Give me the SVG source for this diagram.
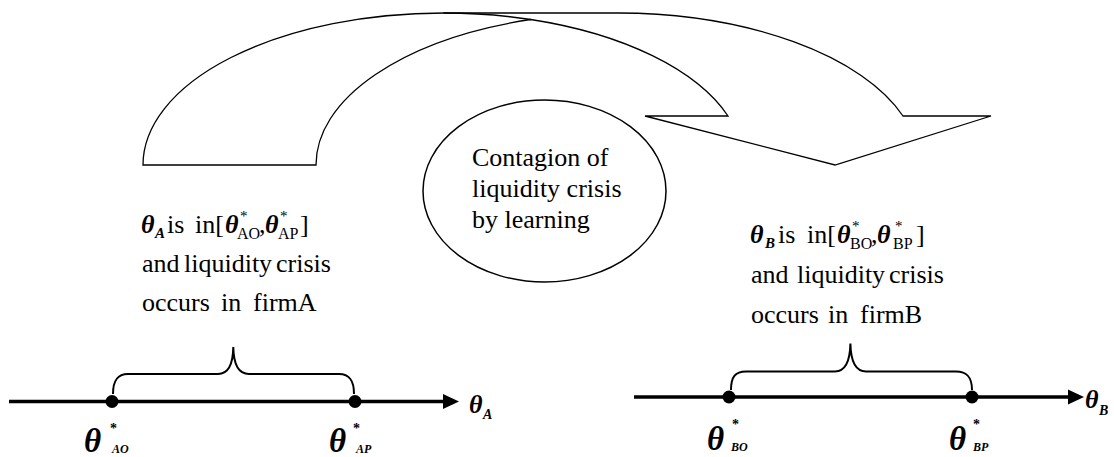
<svg xmlns="http://www.w3.org/2000/svg" width="1114" height="457" viewBox="0 0 1114 457" font-family="Liberation Serif, DejaVu Serif, serif">
<style>
  text, tspan { font-family: "Liberation Serif", "DejaVu Serif", serif; fill: #000; }
  .t { font-size: 26px; }
  .bi { font-weight: bold; font-style: italic; }
  .it { font-style: italic; font-weight: bold; }
  .sub { font-size: 16px; }
  .sup { font-size: 15px; }
  .shape { fill: #fff; stroke: #000; stroke-width: 1.3; stroke-linejoin: miter; }
  .axis { stroke: #000; stroke-width: 3.5; fill: none; }
  .brace { stroke: #000; stroke-width: 2; fill: none; }
  .big { font-size: 33px; font-weight: bold; font-style: italic; }
  .tiny { font-size: 12px; font-weight: bold; font-style: italic; }
  .ast { font-size: 14px; font-weight: bold; }
</style>
<rect width="1114" height="457" fill="#fff"/>

<g id="connectors">
  <g id="curved-arrow">
    <path class="shape" d="M143,165 A300.5,152 0 0 1 443.5,13 L618.5,13 A302.5,152 0 0 1 903,116 L991,116 L835,165 L645,116 L728,116 A300.5,152 0 0 0 530.7,19.5 A302.5,152 0 0 0 316,165 Z"/>
    <path class="shape" style="fill:none" d="M443.5,13 A300.5,152 0 0 1 530.7,19.5"/>
  </g>
  <g id="axis-A">
    <line class="axis" x1="9" y1="401.5" x2="446" y2="401.5"/>
    <polygon points="443,394 459,401.5 443,409" fill="#000"/>
  </g>
  <g id="axis-B">
    <line class="axis" x1="634" y1="397" x2="1071" y2="397"/>
    <polygon points="1068,389.5 1084,397 1068,404.5" fill="#000"/>
  </g>
</g>

<g id="node-contagion">
  <ellipse cx="544.5" cy="191" rx="121.5" ry="91" fill="#fff" stroke="#000" stroke-width="1.5"/>
  <text class="t" x="472" y="166">Contagion of</text>
  <text class="t" x="472" y="197">liquidity crisis</text>
  <text class="t" x="472" y="228">by learning</text>
</g>

<g id="node-firmA-text">
  <text class="t" y="233"><tspan class="bi" x="141">θ</tspan><tspan class="bi" x="155" y="238" font-size="15">A</tspan><tspan x="167" y="233">is</tspan><tspan x="195">in[</tspan><tspan class="it" x="225">θ</tspan><tspan class="sup" x="240" y="221">*</tspan><tspan class="sub" x="237" y="239">AO</tspan><tspan x="259" y="233">,</tspan><tspan class="it" x="265">θ</tspan><tspan class="sup" x="280" y="221">*</tspan><tspan class="sub" x="278" y="239">AP</tspan><tspan x="300" y="233">]</tspan></text>
  <text class="t" y="272"><tspan x="142">and</tspan><tspan x="184">liquidity</tspan><tspan x="276">crisis</tspan></text>
  <text class="t" y="311"><tspan x="142">occurs</tspan><tspan x="221">in</tspan><tspan x="253">firmA</tspan></text>
</g>

<g id="node-firmB-text">
  <text class="t" y="243"><tspan class="bi" x="750">θ</tspan><tspan class="bi" x="765" y="248" font-size="15">B</tspan><tspan x="778" y="243">is</tspan><tspan x="807">in[</tspan><tspan class="it" x="837">θ</tspan><tspan class="sup" x="852" y="231">*</tspan><tspan class="sub" x="850" y="249">BO</tspan><tspan x="871" y="243">,</tspan><tspan class="it" x="877">θ</tspan><tspan class="sup" x="895" y="231">*</tspan><tspan class="sub" x="893" y="249">BP</tspan><tspan x="916" y="243">]</tspan></text>
  <text class="t" y="283"><tspan x="751">and</tspan><tspan x="797">liquidity</tspan><tspan x="889">crisis</tspan></text>
  <text class="t" y="323"><tspan x="751">occurs</tspan><tspan x="828">in</tspan><tspan x="860">firmB</tspan></text>
</g>

<g id="axis-A-marks">
  <path class="brace" d="M113,394 C113,381 117,374 128,374 L218,374 C228,374 233,366 233.3,347 C233.6,366 239,374 249,374 L339,374 C350,374 354,381 354,394"/>
  <circle cx="112" cy="401.5" r="6.5" fill="#000"/>
  <circle cx="355" cy="401.5" r="6.5" fill="#000"/>
  <text class="bi" font-size="26" x="469" y="413">θ</text>
  <text class="bi" font-size="14" x="483" y="419">A</text>
  <text class="big" x="84" y="452">θ</text>
  <text class="ast" x="110" y="433">*</text>
  <text class="tiny" x="112" y="453">AO</text>
  <text class="big" x="329" y="452">θ</text>
  <text class="ast" x="353" y="433">*</text>
  <text class="tiny" x="356" y="453">AP</text>
</g>

<g id="axis-B-marks">
  <path class="brace" d="M731,390 C731,377 735,371.5 746,371.5 L835,371.5 C845,371.5 850,363 850.4,343.6 C850.8,363 856,371.5 866,371.5 L956,371.5 C967,371.5 972,377 972,390"/>
  <circle cx="729" cy="397" r="6.5" fill="#000"/>
  <circle cx="972" cy="397" r="6.5" fill="#000"/>
  <text class="bi" font-size="26" x="1085" y="408">θ</text>
  <text class="bi" font-size="14" x="1099" y="415">B</text>
  <text class="big" x="707" y="450">θ</text>
  <text class="ast" x="732" y="429">*</text>
  <text class="tiny" x="731" y="451">BO</text>
  <text class="big" x="949" y="450">θ</text>
  <text class="ast" x="973" y="429">*</text>
  <text class="tiny" x="973" y="451">BP</text>
</g>
</svg>
